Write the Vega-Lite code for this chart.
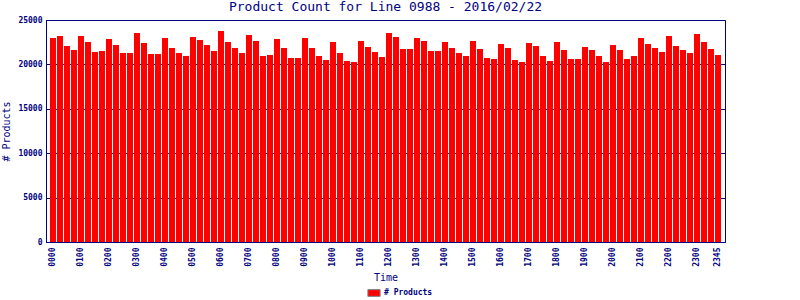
{
  "$schema": "https://vega.github.io/schema/vega-lite/v6.json",
  "width": 679,
  "height": 222,
  "autosize": {"type": "none"},
  "padding": {"left": 46, "top": 20, "right": 75, "bottom": 58},
  "background": "white",
  "title": {
    "text": "Product Count for Line 0988 - 2016/02/22",
    "font": "DejaVu Sans Mono",
    "fontSize": 13,
    "fontWeight": "normal",
    "color": "#000080",
    "anchor": "middle",
    "baseline": "alphabetic",
    "offset": 3,
    "dy": 11
  },
  "config": {
    "view": {"stroke": "#000080", "strokeWidth": 1},
    "axis": {
      "domainColor": "#000080",
      "labelColor": "#000080",
      "titleColor": "#000080",
      "labelFont": "DejaVu Sans Mono",
      "titleFont": "DejaVu Sans Mono",
      "labelFontWeight": "bold",
      "titleFontWeight": "normal"
    }
  },
  "data": {
    "values": [
      {"t": "0000", "v": 22970}, {"t": "0015", "v": 23200}, {"t": "0030", "v": 22070}, {"t": "0045", "v": 21620},
      {"t": "0100", "v": 23200}, {"t": "0115", "v": 22520}, {"t": "0130", "v": 21400}, {"t": "0145", "v": 21510},
      {"t": "0200", "v": 22860}, {"t": "0215", "v": 22190}, {"t": "0230", "v": 21280}, {"t": "0245", "v": 21280},
      {"t": "0300", "v": 23540}, {"t": "0315", "v": 22410}, {"t": "0330", "v": 21170}, {"t": "0345", "v": 21170},
      {"t": "0400", "v": 22970}, {"t": "0415", "v": 21850}, {"t": "0430", "v": 21280}, {"t": "0445", "v": 20950},
      {"t": "0500", "v": 23090}, {"t": "0515", "v": 22750}, {"t": "0530", "v": 22190}, {"t": "0545", "v": 21510},
      {"t": "0600", "v": 23760}, {"t": "0615", "v": 22520}, {"t": "0630", "v": 21850}, {"t": "0645", "v": 21280},
      {"t": "0700", "v": 23310}, {"t": "0715", "v": 22640}, {"t": "0730", "v": 20950}, {"t": "0745", "v": 21060},
      {"t": "0800", "v": 22860}, {"t": "0815", "v": 21850}, {"t": "0830", "v": 20720}, {"t": "0845", "v": 20720},
      {"t": "0900", "v": 22970}, {"t": "0915", "v": 21850}, {"t": "0930", "v": 20950}, {"t": "0945", "v": 20500},
      {"t": "1000", "v": 22520}, {"t": "1015", "v": 21280}, {"t": "1030", "v": 20380}, {"t": "1045", "v": 20270},
      {"t": "1100", "v": 22640}, {"t": "1115", "v": 21960}, {"t": "1130", "v": 21400}, {"t": "1145", "v": 20830},
      {"t": "1200", "v": 23540}, {"t": "1215", "v": 23090}, {"t": "1230", "v": 21730}, {"t": "1245", "v": 21730},
      {"t": "1300", "v": 22970}, {"t": "1315", "v": 22640}, {"t": "1330", "v": 21510}, {"t": "1345", "v": 21510},
      {"t": "1400", "v": 22520}, {"t": "1415", "v": 21850}, {"t": "1430", "v": 21280}, {"t": "1445", "v": 20950},
      {"t": "1500", "v": 22640}, {"t": "1515", "v": 21730}, {"t": "1530", "v": 20720}, {"t": "1545", "v": 20610},
      {"t": "1600", "v": 22300}, {"t": "1615", "v": 21850}, {"t": "1630", "v": 20500}, {"t": "1645", "v": 20270},
      {"t": "1700", "v": 22410}, {"t": "1715", "v": 22070}, {"t": "1730", "v": 20950}, {"t": "1745", "v": 20380},
      {"t": "1800", "v": 22520}, {"t": "1815", "v": 21620}, {"t": "1830", "v": 20610}, {"t": "1845", "v": 20610},
      {"t": "1900", "v": 21960}, {"t": "1915", "v": 21620}, {"t": "1930", "v": 20950}, {"t": "1945", "v": 20270},
      {"t": "2000", "v": 22190}, {"t": "2015", "v": 21620}, {"t": "2030", "v": 20610}, {"t": "2045", "v": 20950},
      {"t": "2100", "v": 22970}, {"t": "2115", "v": 22300}, {"t": "2130", "v": 21850}, {"t": "2145", "v": 21400},
      {"t": "2200", "v": 23200}, {"t": "2215", "v": 22070}, {"t": "2230", "v": 21620}, {"t": "2245", "v": 21280},
      {"t": "2300", "v": 23420}, {"t": "2315", "v": 22520}, {"t": "2330", "v": 21730}, {"t": "2345", "v": 21060}
    ]
  },
  "mark": {"type": "bar"},
  "encoding": {
    "x": {
      "field": "t",
      "type": "ordinal",
      "sort": null,
      "scale": {"paddingInner": 0.143, "paddingOuter": 0.57},
      "axis": {
        "title": "Time",
        "titleFontSize": 10,
        "titlePadding": 6,
        "labelAngle": 270,
        "labelAlign": "right",
        "labelBaseline": "middle",
        "labelFontSize": 8,
        "labelPadding": 5,
        "ticks": false,
        "values": ["0000","0100","0200","0300","0400","0500","0600","0700","0800","0900","1000","1100","1200","1300","1400","1500","1600","1700","1800","1900","2000","2100","2200","2300","2345"],
        "grid": false
      }
    },
    "y": {
      "field": "v",
      "type": "quantitative",
      "scale": {"domain": [0, 25000], "nice": false},
      "axis": {
        "title": "# Products",
        "titleFontSize": 10,
        "titlePadding": 6,
        "values": [0, 5000, 10000, 15000, 20000, 25000],
        "format": "d",
        "labelFontSize": 8,
        "labelPadding": 4,
        "ticks": false,
        "grid": true,
        "gridColor": "#000080",
        "gridOpacity": 1,
        "gridWidth": 1
      }
    },
    "color": {
      "datum": "# Products",
      "type": "nominal",
      "scale": {"range": ["#ff0000"]},
      "legend": {
        "title": null,
        "orient": "none",
        "legendX": 321,
        "legendY": 266,
        "symbolType": "M-1,-0.55H1V0.55H-1Z",
        "symbolSize": 150,
        "symbolStrokeColor": "#808080",
        "symbolStrokeWidth": 1,
        "symbolFillColor": "#ff0000",
        "labelFont": "DejaVu Sans Mono",
        "labelFontSize": 8,
        "labelFontWeight": "bold",
        "labelColor": "#000080",
        "labelOffset": 3
      }
    }
  }
}
